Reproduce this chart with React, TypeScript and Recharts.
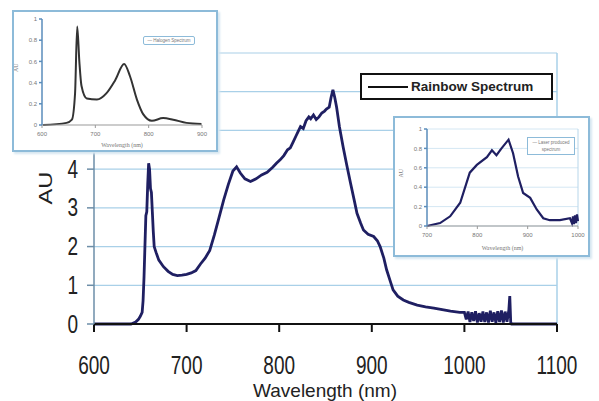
import { LineChart, Line, XAxis, YAxis, CartesianGrid, ReferenceLine, Legend } from 'recharts';

// main spectrum
const wavelengths = [
  600, 620, 640, 645, 648, 650, 652, 653, 654, 655, 656, 657, 658, 659, 660, 661, 662, 663, 664, 665,
  667, 670, 675, 680, 685, 690, 695, 700, 705, 710, 715, 720, 725, 730, 735, 740, 745, 750, 754, 758,
  763, 769, 775, 781, 787, 793, 797, 801, 805, 809, 812, 815, 818, 820, 823, 826, 829, 832, 834, 837,
  840, 843, 846, 849, 851, 854, 856, 858, 860, 862, 865, 869, 873, 877, 881, 884, 888, 891, 896, 902,
  906, 909, 913, 916, 920, 923, 928, 934, 940, 949, 958, 967, 976, 985, 995, 1000, 1002, 1004, 1006, 1008,
  1010, 1012, 1014, 1016, 1018, 1020, 1022, 1024, 1026, 1028, 1030, 1032, 1034, 1036, 1038, 1040, 1042, 1044, 1046, 1048,
  1049, 1050, 1051, 1100,
];
const intensity = [
  0, 0, 0, 0.05, 0.12, 0.2, 0.3, 0.6, 1.2, 2.0, 2.8, 2.9, 3.6, 4.15, 4.0, 3.5, 3.4, 2.9, 2.4, 2.0,
  1.85, 1.65, 1.48, 1.36, 1.28, 1.25, 1.26, 1.28, 1.32, 1.38, 1.55, 1.7, 1.9, 2.3, 2.75, 3.2, 3.6, 3.95, 4.06, 3.9,
  3.75, 3.68, 3.75, 3.85, 3.92, 4.05, 4.15, 4.24, 4.35, 4.5, 4.55, 4.7, 4.85, 4.95, 5.1, 5.05, 5.25, 5.35, 5.3, 5.4,
  5.28, 5.35, 5.45, 5.5, 5.55, 5.6, 5.85, 6.05, 5.85, 5.6, 5.1, 4.58, 4.1, 3.64, 3.2, 2.86, 2.6, 2.43, 2.32, 2.26,
  2.15, 2.0, 1.7, 1.4, 1.1, 0.88, 0.72, 0.62, 0.56, 0.49, 0.44, 0.41, 0.37, 0.33, 0.3, 0.3, 0.12, 0.32, 0.05, 0.3,
  0.08, 0.33, 0.04, 0.28, 0.06, 0.32, 0.05, 0.3, 0.04, 0.34, 0.06, 0.3, 0.03, 0.33, 0.05, 0.35, 0.04, 0.32, 0.06, 0.36,
  0.72, 0.05, 0, 0,
];
const mainTicksX = [600, 700, 800, 900, 1000, 1100];
const mainTicksY = [0, 1, 2, 3, 4, 5, 6, 7];

// inset 1 (source)
const srcNm = [602, 646, 656, 662, 666, 670, 674, 684, 703, 721, 737, 754, 765, 778, 790, 806, 827, 846, 871, 899];
const srcAu = [0, 0.02, 0.05, 0.3, 0.93, 0.6, 0.37, 0.25, 0.24, 0.3, 0.42, 0.575, 0.46, 0.24, 0.1, 0.04, 0.065, 0.05, 0.02, 0.01];
const srcTicksX = [600, 700, 800, 900];

// inset 2 (emitted)
const emNm = [700, 726, 746, 766, 785, 799, 819, 829, 838, 848, 862, 871, 881, 891, 905, 918, 931, 944, 964, 984, 988, 990, 992, 994, 996, 998, 1000];
const emAu = [0, 0.03, 0.1, 0.24, 0.55, 0.63, 0.71, 0.78, 0.73, 0.8, 0.89, 0.75, 0.51, 0.34, 0.29, 0.17, 0.08, 0.06, 0.06, 0.08, 0.03, 0.1, 0.02, 0.11, 0.03, 0.12, 0.05];
const emTicksX = [700, 800, 900, 1000];
const insetTicksY = [0, 0.2, 0.4, 0.6, 0.8, 1];

const mainData = wavelengths.map((nm, i) => ({ nm, au: intensity[i] }));
const srcData = srcNm.map((nm, i) => ({ nm, au: srcAu[i] }));
const emData = emNm.map((nm, i) => ({ nm, au: emAu[i] }));

const FONT = 'Arial, "Liberation Sans", sans-serif';
const GRID = '#a9d0e8';
const INK = '#1f1f62';

const XTick = (p: any) => (
  <text
    transform={`translate(${p.x},${p.y + 31}) scale(1,1.35)`}
    textAnchor="middle"
    dominantBaseline="central"
    fontFamily={FONT}
    fontSize={19}
    fill="#222"
  >
    {p.payload.value}
  </text>
);

const YTick = (p: any) => (
  <text
    transform={`translate(${p.x},${p.y}) scale(1,1.35)`}
    textAnchor="end"
    dominantBaseline="central"
    fontFamily={FONT}
    fontSize={19}
    fill="#222"
  >
    {p.payload.value}
  </text>
);

const MainLegend = () => (
  <div
    style={{
      boxSizing: 'border-box',
      width: 193,
      height: 27,
      border: '2px solid #111',
      background: '#fff',
      display: 'flex',
      alignItems: 'center',
      paddingLeft: 6,
    }}
  >
    <div style={{ width: 40, height: 2, background: '#111', marginRight: 3 }} />
    <span style={{ fontFamily: FONT, fontWeight: 'bold', fontSize: 13.5, color: '#222' }}>Rainbow Spectrum</span>
  </div>
);

const insetBox = (left: number, top: number, w: number, h: number): React.CSSProperties => ({
  position: 'absolute',
  left,
  top,
  width: w,
  height: h,
  boxSizing: 'border-box',
  border: '2px solid #8dbbd9',
  background: '#fff',
  boxShadow: '2px 2px 2px #d7e7f1',
});

const tinyTick = { fontSize: 6, fill: '#777', fontFamily: FONT };

export default function App() {
  return (
    <div style={{ position: 'absolute', left: 0, top: 0, width: 599, height: 401, background: '#fff' }}>
      <LineChart width={599} height={401} data={mainData} margin={{ top: 53, right: 42, bottom: 47, left: 0 }}>
        <CartesianGrid vertical={false} stroke={GRID} strokeWidth={1.2} />
        <ReferenceLine x={1100} stroke={GRID} strokeWidth={1.5} />
        <XAxis
          dataKey="nm"
          type="number"
          domain={[600, 1100]}
          ticks={mainTicksX}
          interval={0}
          height={30}
          tickSize={8}
          tickMargin={2}
          stroke="#111"
          strokeWidth={2}
          tick={XTick}
          label={{
            content: () => (
              <text
                x={325}
                y={390}
                textAnchor="middle"
                dominantBaseline="central"
                fontFamily={FONT}
                fontSize={19}
                fill="#222"
              >
                Wavelength (nm)
              </text>
            ),
          }}
        />
        <YAxis
          type="number"
          domain={[0, 7]}
          ticks={mainTicksY}
          interval={0}
          width={94}
          tickSize={7}
          tickMargin={9}
          stroke="#6d8ea8"
          strokeWidth={1.5}
          tick={YTick}
          label={{
            content: () => (
              <text
                transform="translate(46,188) rotate(-90) scale(1.25,1)"
                textAnchor="middle"
                dominantBaseline="central"
                fontFamily={FONT}
                fontSize={19}
                fill="#222"
              >
                AU
              </text>
            ),
          }}
        />
        <Legend
          layout="horizontal"
          verticalAlign="middle"
          align="center"
          content={MainLegend}
          wrapperStyle={{ left: 360, top: 73, width: 193, height: 27 }}
        />
        <Line type="linear" dataKey="au" stroke={INK} strokeWidth={2.8} dot={false} isAnimationActive={false} />
      </LineChart>

      {/* inset: source spectrum */}
      <div style={insetBox(12, 10, 206, 142)}>
        <LineChart width={202} height={138} data={srcData} margin={{ top: 7, right: 14, bottom: 9, left: 0 }}>
          <XAxis
            dataKey="nm"
            type="number"
            domain={[600, 900]}
            ticks={srcTicksX}
            interval={0}
            height={16}
            tickSize={3}
            tickMargin={4}
            stroke="#999"
            tick={tinyTick}
            label={{ value: 'Wavelength (nm)', position: 'insideBottom', offset: -6, style: { fontSize: 6, fill: '#777' } }}
          />
          <YAxis
            type="number"
            domain={[0, 1]}
            ticks={insetTicksY}
            interval={0}
            width={28}
            tickSize={3}
            stroke="#5a8dbb"
            strokeWidth={1.5}
            tick={tinyTick}
            label={{ value: 'AU', angle: -90, position: 'insideLeft', offset: 2, style: { fontSize: 6, fill: '#777' } }}
          />
          <Legend
            layout="horizontal"
            verticalAlign="middle"
            align="center"
            content={() => (
              <div
                style={{
                  boxSizing: 'border-box',
                  width: 52,
                  height: 9,
                  border: '1px solid #8dbbd9',
                  borderRadius: 2,
                  fontFamily: FONT,
                  fontSize: 4.5,
                  color: '#777',
                  lineHeight: '7px',
                  textAlign: 'center',
                  background: '#fff',
                }}
              >
                — Halogen Spectrum
              </div>
            )}
            wrapperStyle={{ left: 129, top: 24, width: 52 }}
          />
          <Line type="monotone" dataKey="au" stroke="#333" strokeWidth={2} dot={false} isAnimationActive={false} />
        </LineChart>
      </div>

      {/* inset: emitted spectrum */}
      <div style={insetBox(393, 116, 197, 141)}>
        <LineChart width={193} height={137} data={emData} margin={{ top: 11, right: 10, bottom: 13, left: 0 }}>
          <CartesianGrid vertical={false} stroke="#d4e7f3" />
          <ReferenceLine x={1000} stroke="#b7d6ea" />
          <XAxis
            dataKey="nm"
            type="number"
            domain={[700, 1000]}
            ticks={emTicksX}
            interval={0}
            height={16}
            tickSize={3}
            tickMargin={4}
            stroke="#999"
            tick={tinyTick}
            label={{ value: 'Wavelength (nm)', position: 'insideBottom', offset: -8, style: { fontSize: 6, fill: '#777' } }}
          />
          <YAxis
            type="number"
            domain={[0, 1]}
            ticks={insetTicksY}
            interval={0}
            width={32}
            tickSize={3}
            stroke="#5a8dbb"
            strokeWidth={1.5}
            tick={tinyTick}
            label={{ value: 'AU', angle: -90, position: 'insideLeft', offset: 6, style: { fontSize: 6, fill: '#777' } }}
          />
          <Legend
            layout="horizontal"
            verticalAlign="middle"
            align="center"
            content={() => (
              <div
                style={{
                  boxSizing: 'border-box',
                  width: 48,
                  height: 18,
                  border: '1px solid #8dbbd9',
                  fontFamily: FONT,
                  fontSize: 4.5,
                  color: '#777',
                  lineHeight: '7px',
                  textAlign: 'center',
                  paddingTop: 1,
                  background: '#fff',
                }}
              >
                — Laser produced
                <br />
                spectrum
              </div>
            )}
            wrapperStyle={{ left: 132, top: 19, width: 48 }}
          />
          <Line type="linear" dataKey="au" stroke={INK} strokeWidth={2.2} dot={false} isAnimationActive={false} />
        </LineChart>
      </div>
    </div>
  );
}
